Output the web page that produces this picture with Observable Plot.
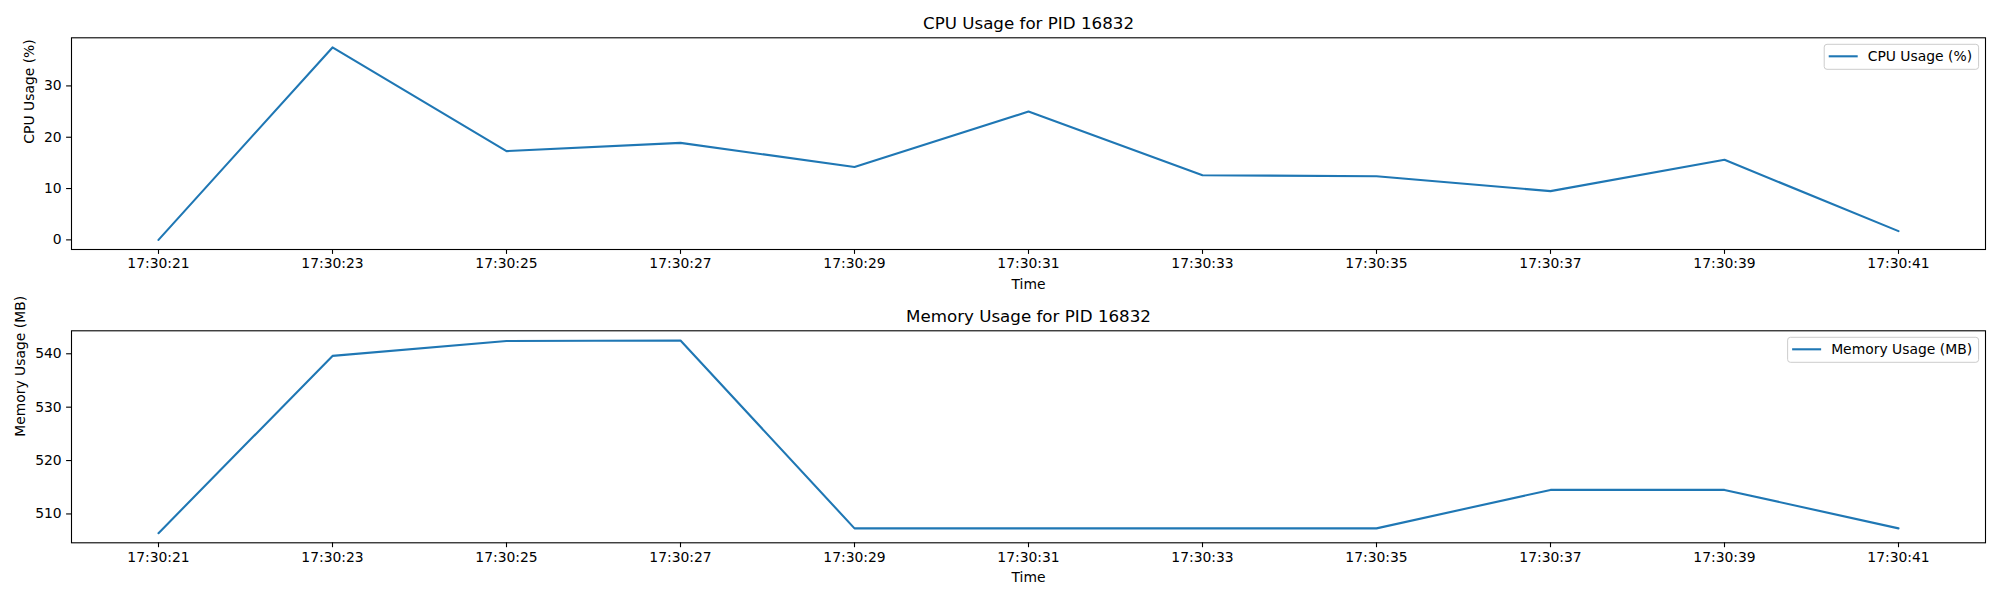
<!DOCTYPE html>
<html>
<head>
<meta charset="utf-8">
<script src="https://cdn.jsdelivr.net/npm/d3@7"></script>
<script src="https://cdn.jsdelivr.net/npm/@observablehq/plot@0.6"></script>
<style>
  html, body { margin: 0; padding: 0; background: white; }
  #wrap { width: 2000px; height: 600px; position: relative; }
  #wrap svg { display: block; }
</style>
</head>
<body>
<div id="wrap"></div>
<script>
// ---- data ----
const times = ["17:30:21","17:30:23","17:30:25","17:30:27","17:30:29","17:30:31","17:30:33","17:30:35","17:30:37","17:30:39","17:30:41"];
const cpuUsage = [0, 37.5, 17.3, 18.9, 14.2, 25.0, 12.6, 12.4, 9.5, 15.6, 1.7];
const memUsage = [506.4, 539.6, 542.4, 542.5, 507.3, 507.3, 507.3, 507.3, 514.5, 514.5, 507.3];
const xTickLabels = ["17:30:21","17:30:23","17:30:25","17:30:27","17:30:29","17:30:31","17:30:33","17:30:35","17:30:37","17:30:39","17:30:41"];
const cpuTicks = [0, 10, 20, 30];
const memTicks = [510, 520, 530, 540];
const titles = ["CPU Usage for PID 16832", "Memory Usage for PID 16832"];
const yLabels = ["CPU Usage (%)", "Memory Usage (MB)"];
const legendLabels = ["CPU Usage (%)", "Memory Usage (MB)"];
const xLabel = "Time";

const parse = d3.timeParse("%H:%M:%S");
const fmt = d3.timeFormat("%H:%M:%S");
const color = "#1f77b4";

function padded(values) {
  const [a, b] = d3.extent(values, v => +v);
  const p = (b - a) * 0.05;
  return [a - p, b + p];
}

function makePanel(values, yTicks, title, yLabel, legendLabel, m) {
  const data = times.map((t, i) => ({time: parse(t), value: values[i]}));
  const xd = padded(data.map(d => d.time)).map(v => new Date(v));
  const yd = padded(values);
  const tickDates = xTickLabels.map(parse);
  const plot = Plot.plot({
    width: 2000,
    height: 300,
    marginLeft: 71,
    marginRight: 15,
    marginTop: m.top,
    marginBottom: m.bottom,
    style: {fontFamily: "DejaVu Sans", fontSize: "13.9px", background: "white", color: "black", overflow: "visible"},
    x: {type: "time", domain: xd},
    y: {domain: yd},
    marks: [
      Plot.axisX({ticks: tickDates, tickFormat: fmt, tickSize: 4.9, tickPadding: 4.2, label: null, strokeWidth: 1.1}),
      Plot.axisY({ticks: yTicks, tickSize: 4.9, tickPadding: 4.9, label: null, strokeWidth: 1.1}),
      Plot.lineY(data, {x: "time", y: "value", stroke: color, strokeWidth: 2.1}),
      Plot.frame({stroke: "black", strokeWidth: 1.1}),
      Plot.text([title], {text: d => d, frameAnchor: "top", lineAnchor: "middle", dy: -14, fontSize: 16.7}),
      Plot.text([xLabel], {text: d => d, frameAnchor: "bottom", lineAnchor: "middle", dy: m.xlabDy}),
      Plot.text([yLabel], {text: d => d, frameAnchor: "left", lineAnchor: "middle", rotate: -90, dx: m.ylabDx})
    ]
  });
  document.getElementById("wrap").appendChild(plot);

  // legend (upper right, matplotlib style)
  const svg = d3.select(plot);
  const xr = plot.scale("x").range;
  const right = Math.max(...xr) - 6.4;
  const top = m.top + 7;
  const g = svg.append("g").attr("text-anchor", "start");
  const rect = g.append("rect");
  const txt = g.append("text")
    .attr("font-family", "DejaVu Sans").attr("font-size", 13.9)
    .attr("text-anchor", "start")
    .attr("dy", "0.35em").attr("fill", "black")
    .text(legendLabel);
  const tw = txt.node().getComputedTextLength();
  const w = 4.5 + 29 + 10 + tw + 6.5;
  const left = right - w;
  rect.attr("x", left).attr("y", top).attr("width", w).attr("height", 25)
    .attr("rx", 2.8).attr("fill", "white").attr("fill-opacity", 0.8)
    .attr("stroke", "#cccccc").attr("stroke-width", 1);
  g.insert("line", "text").attr("x1", left + 4.5).attr("x2", left + 33.5)
    .attr("y1", top + 12).attr("y2", top + 12)
    .attr("stroke", color).attr("stroke-width", 2.1);
  txt.attr("x", left + 43.5).attr("y", top + 12);
}

makePanel(cpuUsage, cpuTicks, titles[0], yLabels[0], legendLabels[0], {top: 37.3, bottom: 51, ylabDx: -42, xlabDy: 35.5});
makePanel(memUsage, memTicks, titles[1], yLabels[1], legendLabels[1], {top: 30.3, bottom: 57.7, ylabDx: -51, xlabDy: 34.5});
</script>
</body>
</html>
